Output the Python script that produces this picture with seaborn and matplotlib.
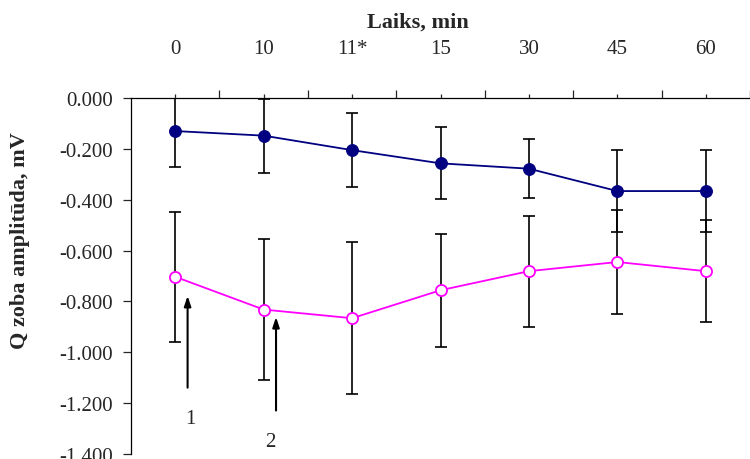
import numpy as np
import pandas as pd
import matplotlib
matplotlib.use("Agg")
import matplotlib.pyplot as plt
import seaborn as sns

categories = ["0", "10", "11*", "15", "30", "45", "60"]
series1_mean = [-0.130, -0.148, -0.205, -0.257, -0.278, -0.366, -0.366]
series1_err = [0.140, 0.145, 0.145, 0.142, 0.117, 0.160, 0.160]
series2_mean = [-0.703, -0.832, -0.866, -0.756, -0.681, -0.645, -0.681]
series2_err = [0.255, 0.277, 0.300, 0.222, 0.218, 0.205, 0.200]
y_ticks = [0.0, -0.2, -0.4, -0.6, -0.8, -1.0, -1.2, -1.4]

sns.set_style("white")
plt.rcParams["font.family"] = ["Liberation Serif", "DejaVu Serif"]
plt.rcParams["axes.unicode_minus"] = False

pos = list(range(len(categories)))
df = pd.DataFrame({
    "pos": pos * 2,
    "val": series1_mean + series2_mean,
    "series": ["1"] * len(pos) + ["2"] * len(pos),
})

fig = plt.figure(figsize=(7.5, 4.6), dpi=100)
ax = fig.add_axes([131 / 750, 1 - 455 / 460, (750 - 131) / 750, (455 - 99) / 460])

ax.errorbar(pos, series1_mean, yerr=series1_err, fmt="none", ecolor="black",
            elinewidth=1.2, capsize=4, capthick=1.2, zorder=1)
ax.errorbar(pos, series2_mean, yerr=series2_err, fmt="none", ecolor="black",
            elinewidth=1.2, capsize=4, capthick=1.2, zorder=1)

sns.lineplot(data=df[df.series == "1"], x="pos", y="val", ax=ax, color="#000080",
             marker="o", markersize=8.5, markerfacecolor="#000080",
             markeredgecolor="#000080", linewidth=1.3, zorder=3, legend=False)
sns.lineplot(data=df[df.series == "2"], x="pos", y="val", ax=ax, color="#FF00FF",
             marker="o", markersize=8, markerfacecolor="white",
             markeredgecolor="#FF00FF", markeredgewidth=1.3, linewidth=1.3,
             zorder=3, legend=False)

ax.set_xlim(-0.5, len(categories) - 0.5)
ax.set_ylim(-1.4, 0.0)

for s in ["right", "bottom"]:
    ax.spines[s].set_visible(False)
for s in ["top", "left"]:
    ax.spines[s].set_color("black")
    ax.spines[s].set_linewidth(0.9)

ax.xaxis.tick_top()
ax.set_xticks(pos)
ax.set_xticklabels(categories)
ax.set_xticks([p - 0.5 for p in pos[1:]] + [len(pos) - 0.5], minor=True)
ax.tick_params(axis="x", which="major", direction="out", length=3, width=0.9,
               pad=26, labelsize=15, top=True, bottom=False)
ax.tick_params(axis="x", which="minor", direction="out", length=6, width=0.9,
               top=True, bottom=False)

ax.set_yticks(y_ticks)
ax.set_yticklabels([f"{v:.3f}" for v in y_ticks])
ax.tick_params(axis="y", which="major", direction="out", length=6, width=0.9,
               pad=7, labelsize=15, left=True)
ax.set_xlabel("")
ax.set_ylabel("")

fig.text(418 / 750, 1 - 23 / 460, "Laiks, min", ha="center", va="center",
         fontsize=16, fontweight="bold")
fig.text(20 / 750, 1 - 241 / 460, "Q zoba amplitūda, mV", ha="center", va="center",
         rotation=90, fontsize=16, fontweight="bold")

arrow = dict(arrowstyle="-|>,head_length=0.6,head_width=0.2", color="black", lw=1.5)
ax.annotate("", xy=(0.14, -0.767), xytext=(0.14, -1.15), arrowprops=arrow)
ax.annotate("", xy=(1.14, -0.85), xytext=(1.14, -1.24), arrowprops=arrow)
ax.text(0.17, -1.26, "1", ha="center", va="center", fontsize=15)
ax.text(1.07, -1.35, "2", ha="center", va="center", fontsize=15)

fig.savefig("out.png", dpi=100)
